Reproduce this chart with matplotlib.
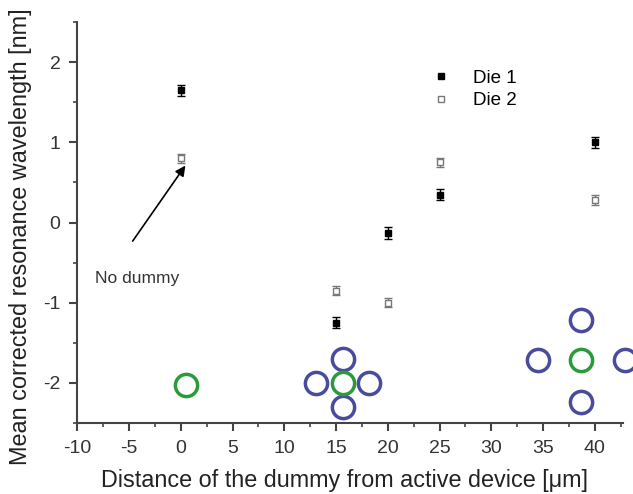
import numpy as np
import matplotlib.pyplot as plt
from matplotlib.ticker import MultipleLocator

plt.rcParams['font.family'] = ['Liberation Sans', 'DejaVu Sans']
plt.rcParams['axes.unicode_minus'] = False

# measured resonance shifts
dist = [0, 15, 20, 25, 40]
die1 = [1.65, -1.25, -0.13, 0.35, 1.0]
die1_err = [0.07, 0.07, 0.07, 0.07, 0.07]
die2 = [0.8, -0.85, -1.0, 0.75, 0.28]
die2_err = [0.06, 0.06, 0.06, 0.06, 0.06]

# dummy layout sketch (rings)
green_x = [0.5, 15.7, 38.7]
green_y = [-2.03, -2.0, -1.71]
blue_x = [15.7, 15.7, 13.1, 18.2, 38.7, 38.7, 34.5, 42.9]
blue_y = [-1.7, -2.3, -2.0, -2.0, -1.21, -2.24, -1.71, -1.71]

fig = plt.figure(figsize=(6.33, 4.94), dpi=100)
ax = fig.add_axes([0.122, 0.144, 0.862, 0.811])

ax.errorbar(dist, die1, yerr=die1_err, fmt='s', color='black', ms=5,
            capsize=3, elinewidth=1)
ax.errorbar(dist, die2, yerr=die2_err, fmt='s', mfc='white', mec='#777777',
            ecolor='#777777', ms=5, capsize=3, elinewidth=1)
# legend handles without error bars
h1, = ax.plot([], [], 's', color='black', ms=5, label='Die 1')
h2, = ax.plot([], [], 's', mfc='white', mec='#777777', ms=5, label='Die 2')

ax.plot(blue_x, blue_y, 'o', ms=16, mfc='none', mec='#4b4b9e', mew=2.5,
        clip_on=False)
ax.plot(green_x, green_y, 'o', ms=16, mfc='none', mec='#2a9a3a', mew=2.5,
        clip_on=False)

ax.annotate('', xy=(0.6, 0.74), xytext=(-4.8, -0.26),
            arrowprops=dict(arrowstyle='-|>', color='black', lw=1.2,
                            mutation_scale=15))
ax.text(-8.3, -0.7, 'No dummy', fontsize=12.5, color='#333333', va='center')

ax.set_xlim(-10, 42.7)
ax.set_ylim(-2.5, 2.5)
ax.xaxis.set_major_locator(MultipleLocator(5))
ax.xaxis.set_minor_locator(MultipleLocator(2.5))
ax.yaxis.set_major_locator(MultipleLocator(1))
ax.yaxis.set_minor_locator(MultipleLocator(0.5))
ax.spines['top'].set_visible(False)
ax.spines['right'].set_visible(False)
for s in ('left', 'bottom'):
    ax.spines[s].set_color('#444444')
    ax.spines[s].set_linewidth(1.5)
ax.tick_params(which='major', length=6, width=1.5, color='#444444',
               labelsize=14, labelcolor='#333333', pad=6)
ax.tick_params(which='minor', length=3, width=1.2, color='#444444')

ax.set_xlabel('Distance of the dummy from active device [\u03bcm]',
              fontsize=16.8, color='#222222')
ax.set_ylabel('Mean corrected resonance wavelength [nm]', fontsize=16.9,
              color='#222222')
ax.xaxis.set_label_coords(0.49, -0.115)
ax.yaxis.set_label_coords(-0.082, 0.465)

ax.legend(handles=[h1, h2], loc='upper left', bbox_to_anchor=(0.625, 0.915),
          frameon=False, fontsize=13.5, handletextpad=1.2, borderpad=0.2,
          labelspacing=0.3, handlelength=1.0)

fig.savefig('out.png', dpi=100)
